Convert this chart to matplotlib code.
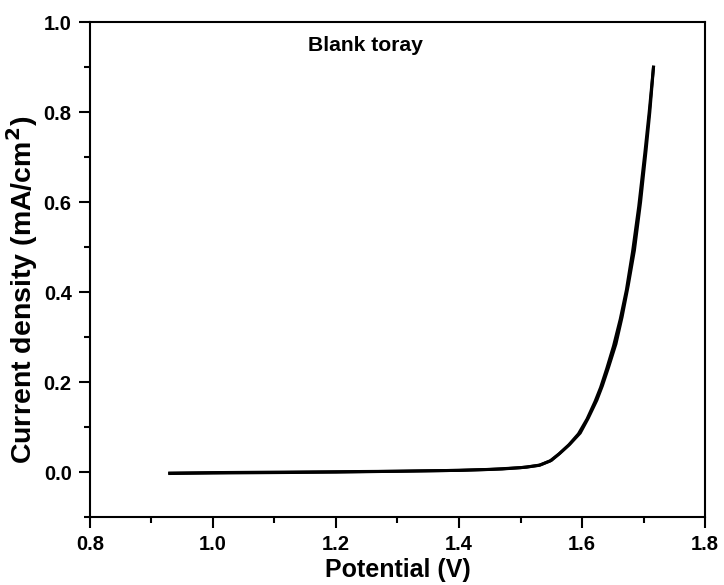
import numpy as np
import matplotlib.pyplot as plt

plt.rcParams['font.family'] = ['Liberation Sans', 'DejaVu Sans']
plt.rcParams['font.weight'] = 'bold'

# potential (V) and current density (mA/cm2), forward and reverse scans
pot_fwd = [0.93, 1.00, 1.10, 1.20, 1.30, 1.40, 1.47, 1.51, 1.532, 1.55, 1.564, 1.58, 1.597, 1.61, 1.624, 1.633, 1.643, 1.655, 1.665, 1.675, 1.685, 1.695, 1.704, 1.710, 1.716]
cur_fwd = [-0.002, -0.001, 0.000, 0.001, 0.002, 0.004, 0.007, 0.011, 0.016, 0.026, 0.042, 0.062, 0.087, 0.120, 0.160, 0.192, 0.233, 0.285, 0.345, 0.415, 0.493, 0.600, 0.716, 0.800, 0.90]
pot_rev = [1.716, 1.709, 1.702, 1.692, 1.682, 1.672, 1.662, 1.651, 1.640, 1.630, 1.621, 1.608, 1.594, 1.578, 1.562, 1.548, 1.530, 1.50, 1.45, 1.40, 1.30, 1.20, 1.10, 1.00, 0.93]
cur_rev = [0.90, 0.80, 0.71, 0.59, 0.49, 0.405, 0.34, 0.28, 0.23, 0.188, 0.157, 0.118, 0.085, 0.060, 0.040, 0.025, 0.015, 0.010, 0.006, 0.004, 0.002, 0.000, -0.001, -0.002, -0.003]

fig = plt.figure(figsize=(7.24, 5.85), dpi=100)
ax = fig.add_axes([0.124, 0.116, 0.850, 0.846])

ax.plot(pot_fwd, cur_fwd, color='black', lw=2.2)
ax.plot(pot_rev, cur_rev, color='black', lw=2.2)

ax.set_xlim(0.8, 1.8)
ax.set_ylim(-0.1, 1.0)
ax.set_xticks(np.arange(0.8, 1.81, 0.2))
ax.set_xticks(np.arange(0.9, 1.8, 0.2), minor=True)
ax.set_yticks(np.arange(0.0, 1.01, 0.2))
ax.set_yticks(np.arange(-0.1, 1.0, 0.2), minor=True)
ax.xaxis.set_major_formatter(plt.FormatStrFormatter('%.1f'))
ax.yaxis.set_major_formatter(plt.FormatStrFormatter('%.1f'))

for s in ax.spines.values():
    s.set_linewidth(1.5)
ax.tick_params(which='major', direction='out', length=8, width=1.5, labelsize=14.5, pad=5, top=False, right=False)
ax.tick_params(which='minor', direction='out', length=4, width=1.5, top=False, right=False)
for lab in ax.get_xticklabels() + ax.get_yticklabels():
    lab.set_fontweight('bold')

ax.set_xlabel('Potential (V)', fontsize=18, fontweight='bold', labelpad=3)
ax.set_ylabel('Current density (mA/cm$^\\mathbf{2}$)', fontsize=20.5, fontweight='bold')
ax.yaxis.set_label_coords(-0.081, 0.459)
ax.text(1.154, 0.949, 'Blank toray', fontsize=15.2, fontweight='bold', va='center')

fig.savefig('out.png', dpi=100)
